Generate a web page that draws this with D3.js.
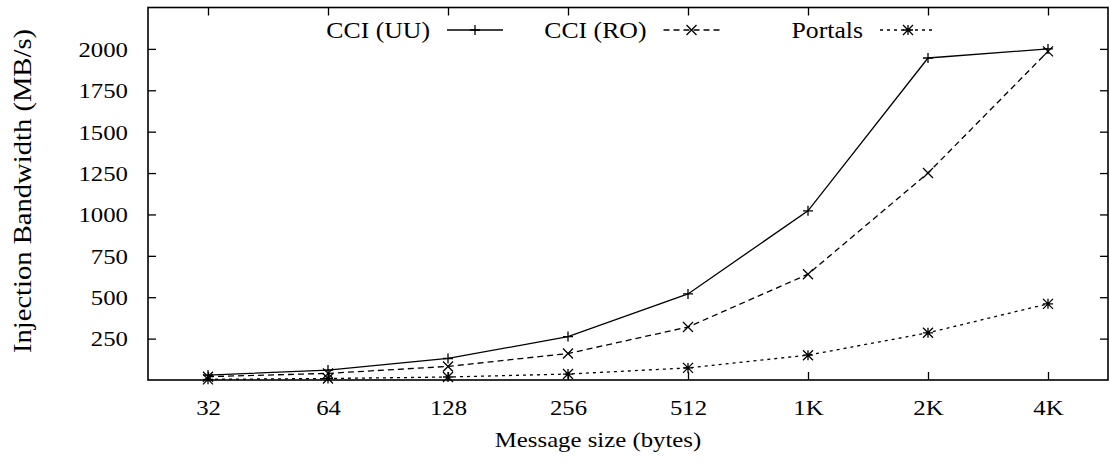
<!DOCTYPE html>
<html>
<head>
<meta charset="utf-8">
<script src="https://cdn.jsdelivr.net/npm/d3@7"></script>
<style>
body{margin:0;background:#fff;}
</style>
</head>
<body>
<svg id="chart"></svg>
<script>
// message sizes on the x axis
var sizes = ["32","64","128","256","512","1K","2K","4K"];
var seriesNames = ["CCI (UU)","CCI (RO)","Portals"];
var uuValues = [30,60,130,262,520,1022,1945,2000];
var roValues = [20,40,82,160,320,639,1250,1985];
var portalsValues = [4,9,18,36,73,150,285,460];
var yTicks = [250,500,750,1000,1250,1500,1750,2000];

const canvasWidth = 1110;
const canvasHeight = 464;
const plotLeft = 148, plotRight = 1108, plotTop = 7.5, plotBottom = 380;
const stretch = 1.18; // glyphs in the original are a bit wide
const serif = "'Liberation Serif', 'DejaVu Serif', serif";

var svg = d3.select("#chart").attr("width",canvasWidth).attr("height",canvasHeight);

var x = d3.scalePoint().domain(sizes).range([plotLeft,plotRight]).padding(0.5);
var y = d3.scaleLinear().domain([0,2250]).range([plotBottom,plotTop]);

var series = [
    {name:seriesNames[0], values:uuValues, dash:null, marker:"plus"},
    {name:seriesNames[1], values:roValues, dash:"6,4", marker:"cross"},
    {name:seriesNames[2], values:portalsValues, dash:"3,4", marker:"star"}
];

function markerPath(type){
    var s = 5;
    var plus = "M"+(-s)+",0H"+s+"M0,"+(-s)+"V"+s;
    var cross = "M"+(-s)+","+(-s)+"L"+s+","+s+"M"+(-s)+","+s+"L"+s+","+(-s);
    if(type=="plus") return plus;
    if(type=="cross") return cross;
    return plus+cross;
}

// axes, ticks pointing inward
var leftAxis = svg.append("g").attr("transform","translate("+plotLeft+",0)")
    .call(d3.axisLeft(y).tickValues(yTicks).tickFormat(d3.format("d")).tickSizeInner(-8).tickSizeOuter(0).tickPadding(17));
var rightAxis = svg.append("g").attr("transform","translate("+plotRight+",0)")
    .call(d3.axisRight(y).tickValues(yTicks).tickSizeInner(-8).tickSizeOuter(0).tickFormat(""));
var bottomAxis = svg.append("g").attr("transform","translate(0,"+plotBottom+")")
    .call(d3.axisBottom(x).tickSizeInner(-8).tickSizeOuter(0).tickPadding(20));
var topAxis = svg.append("g").attr("transform","translate(0,"+plotTop+")")
    .call(d3.axisTop(x).tickSizeInner(-8).tickSizeOuter(0).tickFormat(""));

svg.selectAll("g").attr("font-family",serif);
svg.selectAll(".domain").remove();
svg.selectAll(".tick line").attr("stroke","#000").attr("stroke-width",1.3);
svg.selectAll(".tick text").style("font-size","21px").attr("fill","#000");
leftAxis.selectAll(".tick text").attr("transform","scale("+stretch+",1)").attr("dy","0.35em");
bottomAxis.selectAll(".tick text").attr("transform","scale("+stretch+",1)");

svg.append("rect")
    .attr("x",plotLeft).attr("y",plotTop)
    .attr("width",plotRight-plotLeft).attr("height",plotBottom-plotTop)
    .attr("fill","none").attr("stroke","#000").attr("stroke-width",1.6);

// axis titles
svg.append("text")
    .attr("transform","translate(598,447) scale("+stretch+",1)")
    .attr("text-anchor","middle")
    .style("font-size","21px")
    .text("Message size (bytes)");
svg.append("text")
    .attr("transform","translate(31,191) rotate(-90) scale(1.1,1)")
    .attr("text-anchor","middle")
    .style("font-size","26px")
    .text("Injection Bandwidth (MB/s)");

var line = d3.line().x(function(d,i){return x(sizes[i]);}).y(function(d){return y(d);});

var g = svg.selectAll(".series").data(series).enter().append("g").attr("class","series");
g.append("path")
    .attr("d",function(d){return line(d.values);})
    .attr("fill","none").attr("stroke","#000").attr("stroke-width",1.3)
    .attr("stroke-dasharray",function(d){return d.dash;});
g.each(function(s){
    d3.select(this).selectAll(".pt").data(s.values).enter().append("path")
        .attr("class","pt")
        .attr("transform",function(d,i){return "translate("+x(sizes[i])+","+y(d)+")";})
        .attr("d",markerPath(s.marker))
        .attr("fill","none").attr("stroke","#000").attr("stroke-width",1.3);
});

// legend across the top
var legendY = 30;
var legend = svg.selectAll(".legend").data(series).enter().append("g")
    .attr("class","legend")
    .attr("transform",function(d,i){return "translate("+(430+i*216.5)+","+legendY+")";});
legend.append("text")
    .attr("transform","scale(1.12,1)")
    .attr("text-anchor","end")
    .attr("dy","0.35em")
    .style("font-size","23px")
    .text(function(d){return d.name;});
legend.append("line")
    .attr("x1",17).attr("x2",73).attr("y1",0).attr("y2",0)
    .attr("stroke","#000").attr("stroke-width",1.3)
    .attr("stroke-dasharray",function(d){return d.dash;});
legend.append("path")
    .attr("transform","translate(45,0)")
    .attr("d",function(d){return markerPath(d.marker);})
    .attr("fill","none").attr("stroke","#000").attr("stroke-width",1.3);

svg.selectAll("text").style("font-family",serif).style("fill","#000");
</script>
</body>
</html>
